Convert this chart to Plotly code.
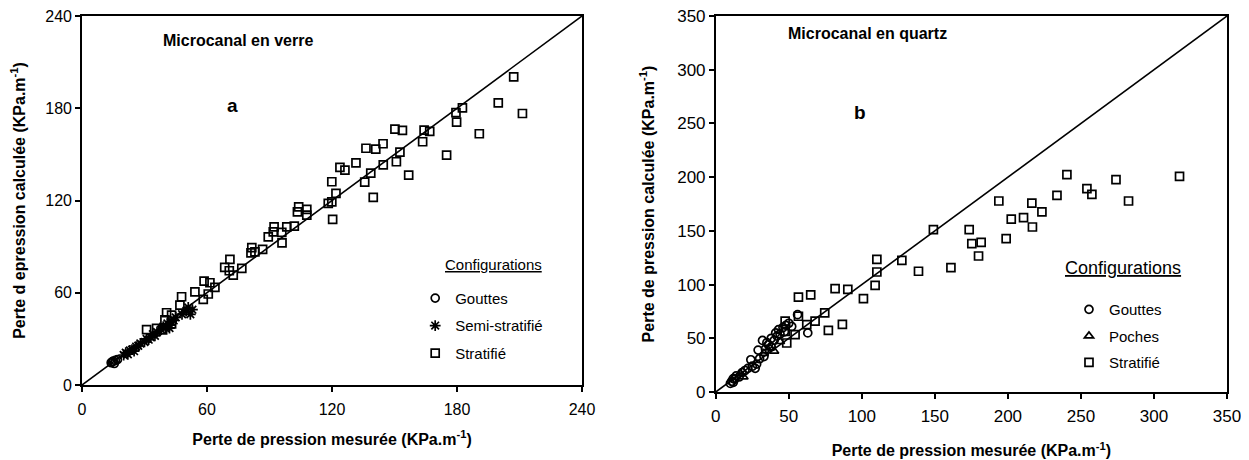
import plotly.graph_objects as go

# ---- panel a : microcanal en verre ----
gouttes_a_x = [14, 15, 15.5, 16, 17, 14.5]
gouttes_a_y = [14.5, 15.5, 14, 16, 16.5, 15]

semi_a_x = [20, 21, 22, 23, 24, 25, 26, 27, 28, 30, 31, 32, 33, 34, 35, 36, 38, 39, 40, 41,
            42, 42, 43, 44, 45, 48, 50, 51, 52, 53]
semi_a_y = [19.5, 21, 20, 22.5, 23, 22, 25, 25.5, 27, 28, 30, 29.5, 31, 33, 32, 34.5, 36, 38, 37, 40,
            39, 37, 41, 42, 44, 46, 48, 50.5, 46, 49]

strat_a_x = [31, 35.8, 38.7, 39.8, 40.6, 43, 43, 47, 47.8, 54.2, 58.2, 60.6, 58.6, 61.4, 63.8, 68.5,
             71, 70.7, 72.6, 76.7, 81.5, 81.1, 86.7, 83, 89.4, 91.8, 92.2, 95.9, 96, 98.3, 101.9,
             103.4, 104, 107.9, 107.9, 118.2, 120.3, 119.9, 121.9, 119.9, 123.8, 126.2, 131.5,
             135.7, 136.3, 138.6, 139.8, 141, 144.5, 144.6, 150.2, 150.9, 152.6, 153.8, 156.8,
             163.5, 164.2, 166.9, 175, 179.5, 179.8, 182.6, 190.7, 199.8, 207.2, 211.4]
strat_a_y = [36, 36.8, 35.8, 42.3, 47, 45.5, 39.7, 52, 57.4, 60.6, 55.7, 59.2, 67.6, 66.5, 63.5, 76.5,
             81.7, 74.3, 71.5, 75.9, 89.3, 86, 88.2, 86.6, 96.4, 99.6, 102.9, 99.3, 92.5, 102.9, 103.4,
             112.6, 115.9, 114.2, 110.5, 118.1, 107.7, 132.2, 124.6, 119.1, 141.5, 139.8, 144.5,
             132, 154, 137.8, 122, 153.4, 156.9, 143.2, 166.4, 145.2, 151.5, 165.6, 136.5,
             158.2, 165.8, 164.9, 149.5, 177.2, 171, 180.3, 163.4, 183.5, 200.4, 176.6]

diag_a = [0, 240]

# ---- panel b : microcanal en quartz ----
gouttes_b_x = [10, 11, 12, 12, 13, 14, 16, 18, 20, 22, 24, 25, 27, 28, 29, 30, 32, 33, 34, 35,
               36, 38, 38, 40, 41, 42, 43, 44, 46, 47, 48, 50, 52, 56, 63]
gouttes_b_y = [8, 10, 9, 12.5, 12, 15, 14, 18, 20, 22, 30, 24, 22, 26, 39, 31, 48, 33, 40, 46,
               44, 42, 50, 48, 55, 52, 58, 54, 60, 56, 62, 64, 61, 72, 55]

poches_b_x = [17, 19, 33, 37, 40, 44]
poches_b_y = [17, 14, 36, 41, 38, 47]

strat_b_x = [47.5, 48.6, 47.5, 54.3, 56.6, 56.6, 62.3, 65, 68, 74.6, 77.1, 81.7, 86.7, 90.4, 101.1,
             109.1, 110.3, 110.3, 127.4, 138.8, 149, 161, 173.5, 175.3, 181.7, 179.9, 193.8, 198.8,
             202.3, 210.7, 216.4, 216.8, 223.3, 233.6, 240.4, 254.1, 257.5, 274, 282.6, 317.5]
strat_b_y = [66, 45.6, 56.5, 53.4, 70.5, 88.4, 62.7, 90.5, 66, 73.6, 57.4, 96.2, 63, 95.6, 86.9,
             99.3, 111.7, 123.5, 122.6, 112.4, 151.2, 115.8, 151.2, 138.1, 139.3, 126.6, 177.8, 142.8,
             161, 162.3, 175.9, 153.6, 167.6, 183.1, 202.4, 189.3, 184, 197.7, 177.8, 200.8]

diag_b = [0, 350]

FONT = "Arial, Liberation Sans, sans-serif"
mk = dict(color="black", size=8, line=dict(color="black", width=1.7))

fig = go.Figure()

fig.add_trace(go.Scatter(x=diag_a, y=diag_a, mode="lines", line=dict(color="black", width=1.6),
                         showlegend=False, xaxis="x", yaxis="y", hoverinfo="skip"))
fig.add_trace(go.Scatter(x=gouttes_a_x, y=gouttes_a_y, mode="markers", name="Gouttes",
                         marker=dict(mk, symbol="circle-open", size=8), legend="legend",
                         legendgroup="a1", xaxis="x", yaxis="y"))
fig.add_trace(go.Scatter(x=semi_a_x, y=semi_a_y, mode="markers", name="Semi-stratifié",
                         marker=dict(mk, symbol="asterisk-open", size=9), legend="legend",
                         legendgroup="a2", xaxis="x", yaxis="y"))
fig.add_trace(go.Scatter(x=strat_a_x, y=strat_a_y, mode="markers", name="Stratifié",
                         marker=dict(mk, symbol="square-open"), legend="legend",
                         legendgroup="a3", xaxis="x", yaxis="y"))

fig.add_trace(go.Scatter(x=diag_b, y=diag_b, mode="lines", line=dict(color="black", width=1.6),
                         showlegend=False, xaxis="x2", yaxis="y2", hoverinfo="skip"))
fig.add_trace(go.Scatter(x=gouttes_b_x, y=gouttes_b_y, mode="markers", name="Gouttes",
                         marker=dict(mk, symbol="circle-open", size=8), legend="legend2",
                         legendgroup="b1", xaxis="x2", yaxis="y2"))
fig.add_trace(go.Scatter(x=poches_b_x, y=poches_b_y, mode="markers", name="Poches",
                         marker=dict(mk, symbol="triangle-up-open", size=8), legend="legend2",
                         legendgroup="b2", xaxis="x2", yaxis="y2"))
fig.add_trace(go.Scatter(x=strat_b_x, y=strat_b_y, mode="markers", name="Stratifié",
                         marker=dict(mk, symbol="square-open"), legend="legend2",
                         legendgroup="b3", xaxis="x2", yaxis="y2"))

ax = dict(showline=True, linecolor="black", linewidth=1.6, mirror=True, ticks="outside",
          ticklen=5, tickwidth=1.5, tickcolor="black", showgrid=False, zeroline=False,
          automargin=False, ticklabeloverflow="allow",
          tickfont=dict(family=FONT, size=16, color="black"))
ax2 = dict(ax, tickfont=dict(family=FONT, size=17, color="black"))
ttl = dict(family=FONT, size=16, color="black", weight="bold")
leg_font = dict(family=FONT, size=15, color="black")

# the page body adds an 8px offset, so the figure is 8px narrower / shorter
fig.update_layout(
    width=1241, height=452,
    paper_bgcolor="white", plot_bgcolor="white",
    margin=dict(l=74, r=22, t=8, b=68),
    xaxis=dict(ax, domain=[0, 0.4367], range=[0, 240], tickvals=[0, 60, 120, 180, 240],
               anchor="y", ticklabelstandoff=4,
               title=dict(text="Perte de pression mesurée (KPa.m<sup>-1</sup>)", font=ttl, standoff=17)),
    yaxis=dict(ax, domain=[0.0186, 1], range=[0, 240], tickvals=[0, 60, 120, 180, 240],
               anchor="x",
               title=dict(text="Perte d epression calculée (KPa.m<sup>-1</sup>)", font=ttl, standoff=18)),
    xaxis2=dict(ax2, domain=[0.5535, 1], range=[0, 350], dtick=50, anchor="y2", ticklabelstandoff=3,
                title=dict(text="Perte de pression mesurée (KPa.m<sup>-1</sup>)", font=ttl, standoff=20)),
    yaxis2=dict(ax2, domain=[0, 1], range=[0, 350], dtick=50, anchor="x2",
                title=dict(text="Perte de pression calculée (KPa.m<sup>-1</sup>)", font=ttl, standoff=19)),
    legend=dict(x=0.291, y=0.293, xanchor="left", yanchor="top", bgcolor="rgba(0,0,0,0)",
                font=leg_font, traceorder="grouped", tracegroupgap=5, itemwidth=30),
    legend2=dict(x=0.862, y=0.263, xanchor="left", yanchor="top", bgcolor="rgba(0,0,0,0)",
                 font=leg_font, traceorder="grouped", tracegroupgap=4, itemwidth=30),
    annotations=[
        dict(x=38, y=224, xref="x", yref="y", text="<b>Microcanal en verre</b>", showarrow=False,
             xanchor="left", font=dict(family=FONT, size=16, color="black")),
        dict(x=72, y=182, xref="x", yref="y", text="<b>a</b>", showarrow=False,
             font=dict(family=FONT, size=19, color="black")),
        dict(x=48, y=334, xref="x2", yref="y2", text="<b>Microcanal en quartz</b>", showarrow=False,
             xanchor="left", font=dict(family=FONT, size=16, color="black")),
        dict(x=99, y=260, xref="x2", yref="y2", text="<b>b</b>", showarrow=False,
             font=dict(family=FONT, size=19, color="black")),
        dict(x=0.3153, y=0.340, xref="paper", yref="paper", text="<u>Configurations</u>",
             showarrow=False, xanchor="left", yanchor="middle",
             font=dict(family=FONT, size=15, color="black")),
        dict(x=0.8568, y=0.330, xref="paper", yref="paper", text="<u>Configurations</u>",
             showarrow=False, xanchor="left", yanchor="middle",
             font=dict(family=FONT, size=18, color="black")),
    ],
)

fig.write_html("out.html")
